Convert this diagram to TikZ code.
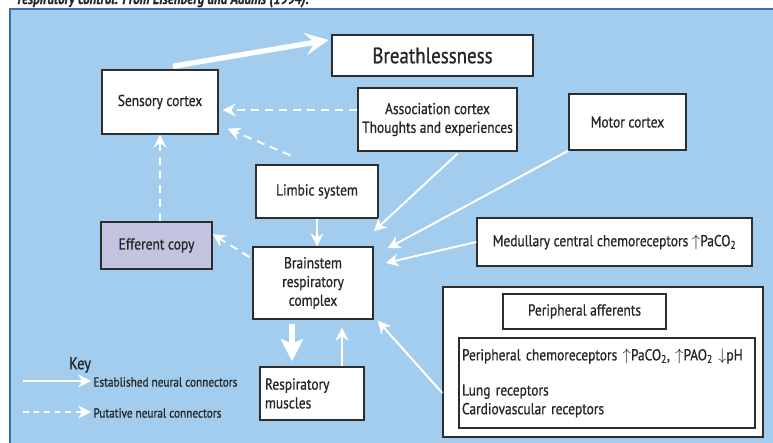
\documentclass[tikz,border=0pt]{standalone}
\usepackage{fontspec}
\setmainfont{PT Sans}[FakeStretch=0.85, FakeBold=0.8]
\usetikzlibrary{arrows.meta,calc}

\definecolor{panelblue}{RGB}{162,205,238}
\definecolor{panelline}{RGB}{59,109,179}
\definecolor{copyfill}{RGB}{196,196,224}
\definecolor{boxline}{RGB}{45,45,45}

\tikzset{
  box/.style={draw=boxline, line width=1.2pt, fill=white, text=black!85,
    font=\fontsize{13.5}{16}\selectfont, inner sep=0pt, align=center},
  link/.style={draw=white, line width=1.7pt, -{Stealth[length=11pt,width=11pt]}},
  putative/.style={link, dash pattern=on 7pt off 5pt},
  bigarrow/.style={draw=white, line width=4.5pt, -{Stealth[length=20pt,width=19pt,inset=8pt]}},
}

\begin{document}
\begin{tikzpicture}[x=0.03cm, y=-0.03cm]

    \useasboundingbox (0,0) rectangle (773,443);
    \clip (0,0) rectangle (773,443);

    \filldraw[fill=panelblue, draw=panelline, line width=1.5pt] (10,9) rectangle (800,470);
    \node[anchor=base east, font=\fontsize{13}{15}\selectfont\bfseries\itshape, text=black!85] (caption) at (313,4)
      {respiratory control. From Eisenberg and Adams (1994).};

    % boxes
    \node[box, font=\fontsize{19}{22}\selectfont, line width=2.4pt, minimum width=6.03cm, minimum height=1.23cm] (breath) at (432.5,55.5) {Breathlessness};
    \node[box, minimum width=3.48cm, minimum height=1.92cm] (sensory) at (160,102) {Sensory cortex};
    \node[box, minimum width=4.77cm, minimum height=1.89cm] (assoc) at (437.5,119.5) {Association cortex\\Thoughts and experiences};
    \node[box, minimum width=3.51cm, minimum height=1.68cm] (motor) at (627.5,122) {Motor cortex};
    \node[box, minimum width=3.66cm, minimum height=1.59cm] (limbic) at (317,191.5) {Limbic system};
    \node[box, minimum width=3.6cm, minimum height=2.16cm] (brainstem) at (313,283) {Brainstem\\respiratory\\complex};
    \node[box, fill=copyfill, minimum width=3.33cm, minimum height=1.41cm] (efferent) at (156.5,245.5) {Efferent copy};
    \node[box, align=left, text width=2.82cm, inner xsep=0.15cm, minimum height=1.59cm] (muscles) at (312,393.5) {Respiratory\\muscles};
    \node[box, minimum width=8.25cm, minimum height=1.44cm] (medullary) at (614.5,242)
      {Medullary central chemoreceptors $\uparrow$PaCO\textsubscript{2}};

    \node[box, minimum width=9.6cm, minimum height=4.5cm] (outer) at (603,362) {};
    \node[box, minimum width=4.89cm, minimum height=1.05cm] (afferents) at (584.5,311.5) {Peripheral afferents};
    \node[box, align=left, text width=8.7cm, inner xsep=0.09cm, minimum height=2.7cm] (inner) at (607,383)
      {Peripheral chemoreceptors $\uparrow$PaCO\textsubscript{2}, $\uparrow$PAO\textsubscript{2} $\downarrow$pH\\[14pt]
       Lung receptors\\Cardiovascular receptors};

    % connectors
    \draw[bigarrow] ($(sensory.north)+(13,-3)$) -- ($(breath.west)+(-2,-15.5)$);
    \draw[putative] ($(assoc.west)+(0,-9.5)$) -- ($(sensory.east)+(4,8)$);
    \draw[putative] ($(limbic.north west)+(35,-9)$) -- ($(sensory.south east)+(9,-6)$);
    \draw[link] (limbic.south) -- (limbic.south |- brainstem.north);
    \draw[link] ($(assoc.south)+(20,2)$) -- ($(brainstem.north east)+(0,-15)$);
    \draw[link] (motor.south west) -- ($(brainstem.north east)+(14,2)$);
    \draw[link] (medullary.west) -- ($(brainstem.east)+(12,-20)$);
    \draw[link] ($(outer.west)+(0,31)$) -- ($(brainstem.south east)+(4,1)$);
    \draw[bigarrow, line width=5pt, -{Stealth[length=19pt,width=19pt,inset=4pt]}] ($(brainstem.south)+(-21,4)$) -- ($(muscles.north)+(-20,-5)$);
    \draw[link] ($(muscles.north)+(30,0)$) -- ($(brainstem.south)+(29,8)$);
    \draw[putative] ($(brainstem.west)+(-3,-26)$) -- ($(efferent.north east)+(0,13)$);
    \draw[putative] (efferent.north -| sensory.south) -- (sensory.south);

    % key
    \node[font=\fontsize{14.5}{17}\selectfont, text=black!85] (key) at (80,365) {Key};
    \coordinate (estfrom) at (23,381);
    \coordinate (estto) at (91,381);
    \coordinate (putfrom) at (23,412);
    \coordinate (putto) at (91,412);
    \draw[link, line width=1.2pt] (estfrom) -- (estto);
    \draw[putative, line width=1.2pt, dash pattern=on 5pt off 4pt] (putfrom) -- (putto);
    \node[anchor=west, inner sep=1pt, font=\fontsize{11.3}{13}\selectfont, text=black!85] (esttext) at (92,382) {Established neural connectors};
    \node[anchor=west, inner sep=1pt, font=\fontsize{11.3}{13}\selectfont, text=black!85] (puttext) at (92,413) {Putative neural connectors};
  \end{tikzpicture}
\end{document}
